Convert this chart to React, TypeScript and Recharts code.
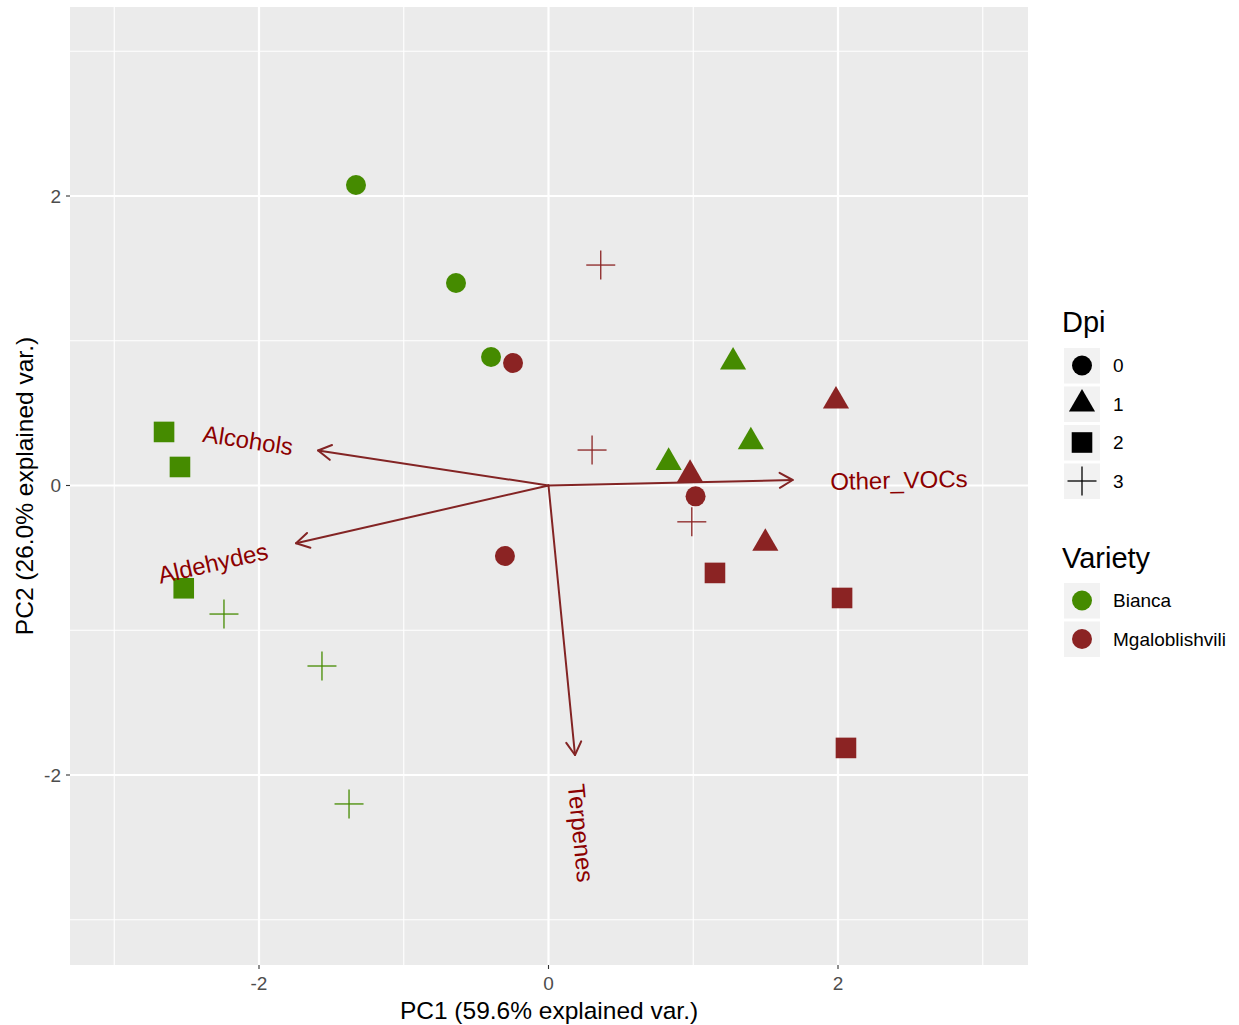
import React from 'react';
import { ScatterChart, Scatter, XAxis, YAxis, CartesianGrid, ReferenceLine } from 'recharts';

const FONT = '"Liberation Sans", Arial, Helvetica, sans-serif';
const GREEN = '#458B00';
const RED = '#8B2323';
const ARROW = '#832424';
const LABEL_RED = '#8B0000';

// axis domains and ticks
const xDomain: [number, number] = [-3.3057, 3.3126];
const yDomain: [number, number] = [-3.3126, 3.3057];
const gridTicks = [-3, -2, -1, 0, 1, 2, 3];
const labelledTicks = [-2, 0, 2];

// legend categories
const dpiLevels = [0, 1, 2, 3];
const varieties = ['Bianca', 'Mgaloblishvili'];
const varietyColors = [GREEN, RED];

// Bianca scores
const biancaPC1 = [-1.330, -0.639, -0.397, 1.275, 1.398, 0.830, -2.656, -2.546, -2.520, -2.242, -1.565, -1.378];
const biancaPC2 = [2.076, 1.399, 0.888, 0.853, 0.302, 0.160, 0.370, 0.128, -0.710, -0.888, -1.247, -2.200];
const biancaDpi = [0, 0, 0, 1, 1, 1, 2, 2, 2, 3, 3, 3];

// Mgaloblishvili scores
const mgaloPC1 = [-0.245, 1.016, -0.301, 1.986, 0.978, 1.498, 1.150, 2.028, 2.055, 0.361, 0.301, 0.990];
const mgaloPC2 = [0.846, -0.075, -0.487, 0.584, 0.077, -0.399, -0.604, -0.777, -1.813, 1.523, 0.245, -0.251];
const mgaloDpi = [0, 0, 0, 1, 1, 1, 2, 2, 2, 3, 3, 3];

// variable loadings (arrows)
const loadingNames = ['Alcohols', 'Aldehydes', 'Other_VOCs', 'Terpenes'];
const loadingPC1 = [-1.592, -1.744, 1.687, 0.183];
const loadingPC2 = [0.242, -0.399, 0.038, -1.862];
const labelPC1 = [-2.076, -2.318, 2.421, 0.225];
const labelPC2 = [0.314, -0.535, 0.038, -2.401];

const biancaData = biancaPC1.map((x, i) => ({ x, y: biancaPC2[i], dpi: biancaDpi[i] }));
const mgaloData = mgaloPC1.map((x, i) => ({ x, y: mgaloPC2[i], dpi: mgaloDpi[i] }));
const labelData = loadingNames.map((name, i) => ({
  x: labelPC1[i],
  y: labelPC2[i],
  name,
  angle: -(Math.atan(loadingPC2[i] / loadingPC1[i]) * 180) / Math.PI,
}));

function Marker({ dpi, cx, cy, color }: { dpi: number; cx: number; cy: number; color: string }) {
  if (dpi === 0) return <circle cx={cx} cy={cy} r={10} fill={color} />;
  if (dpi === 1) {
    const a = 9.7;
    const pts = `${cx},${cy - 1.555 * a} ${cx + 1.347 * a},${cy + 0.778 * a} ${cx - 1.347 * a},${cy + 0.778 * a}`;
    return <polygon points={pts} fill={color} />;
  }
  if (dpi === 2) return <rect x={cx - 10.3} y={cy - 10.3} width={20.6} height={20.6} fill={color} />;
  return (
    <g stroke={color} strokeWidth={1.3}>
      <line x1={cx - 14.5} x2={cx + 14.5} y1={cy} y2={cy} />
      <line x1={cx} x2={cx} y1={cy - 14.5} y2={cy + 14.5} />
    </g>
  );
}

const makeShape = (color: string) => (props: any) => (
  <Marker dpi={props.payload.dpi} cx={props.cx} cy={props.cy} color={color} />
);

function ArrowShape(props: any) {
  const { x1, y1, x2, y2 } = props;
  const ang = Math.atan2(y2 - y1, x2 - x1);
  const L = 15;
  const s = Math.PI / 6;
  const ax = x2 - L * Math.cos(ang - s);
  const ay = y2 - L * Math.sin(ang - s);
  const bx = x2 - L * Math.cos(ang + s);
  const by = y2 - L * Math.sin(ang + s);
  return (
    <g stroke={ARROW} strokeWidth={2} fill="none" strokeLinecap="round" strokeLinejoin="round">
      <line x1={x1} y1={y1} x2={x2} y2={y2} />
      <polyline points={`${ax},${ay} ${x2},${y2} ${bx},${by}`} />
    </g>
  );
}

function VarLabel(props: any) {
  const { cx, cy, payload } = props;
  return (
    <text
      x={cx}
      y={cy}
      transform={`rotate(${payload.angle}, ${cx}, ${cy})`}
      textAnchor="middle"
      dominantBaseline="central"
      fill={LABEL_RED}
      fontSize={24}
      fontFamily={FONT}
    >
      {payload.name}
    </text>
  );
}

function XTick(props: any) {
  const { x, y, payload } = props;
  if (!labelledTicks.includes(payload.value)) return <g />;
  return (
    <g>
      <line x1={x} x2={x} y1={y} y2={y + 4} stroke="#333333" strokeWidth={1.1} />
      <text x={x} y={y + 18} textAnchor="middle" dominantBaseline="central" fill="#4D4D4D" fontSize={19} fontFamily={FONT}>
        {payload.value}
      </text>
    </g>
  );
}

function YTick(props: any) {
  const { x, y, payload } = props;
  if (!labelledTicks.includes(payload.value)) return <g />;
  return (
    <g>
      <line x1={x - 4} x2={x} y1={y} y2={y} stroke="#333333" strokeWidth={1.1} />
      <text x={x - 9} y={y} textAnchor="end" dominantBaseline="central" fill="#4D4D4D" fontSize={19} fontFamily={FONT}>
        {payload.value}
      </text>
    </g>
  );
}

const gridLine = (props: any) => {
  const idx = props.index;
  if (idx === undefined || idx >= gridTicks.length) return <g key={props.key} />;
  const major = labelledTicks.includes(gridTicks[idx]);
  return (
    <line
      key={props.key}
      x1={props.x1}
      y1={props.y1}
      x2={props.x2}
      y2={props.y2}
      stroke="#FFFFFF"
      strokeWidth={major ? 2.2 : 1.1}
    />
  );
};

function Overlay() {
  return (
    <svg width={1239} height={1025} style={{ position: 'absolute', left: 0, top: 0, pointerEvents: 'none' }}>
      <text x={549} y={1010} textAnchor="middle" dominantBaseline="central" fontSize={24.5} fontFamily={FONT} fill="#000">
        PC1 (59.6% explained var.)
      </text>
      <text
        transform="translate(24,486) rotate(-90)"
        textAnchor="middle"
        dominantBaseline="central"
        fontSize={24.5}
        fontFamily={FONT}
        fill="#000"
      >
        PC2 (26.0% explained var.)
      </text>
      <text x={1062} y={332} fontSize={29} fontFamily={FONT} fill="#000">Dpi</text>
      {dpiLevels.map((d, i) => {
        const top = 348 + i * 38.5;
        const cy = top + 17.5;
        return (
          <g key={d}>
            <rect x={1064} y={top} width={36} height={35.5} fill="#F2F2F2" />
            <Marker dpi={d} cx={1082} cy={cy} color="#000" />
            <text x={1113} y={cy} dominantBaseline="central" fontSize={19} fontFamily={FONT} fill="#000">{d}</text>
          </g>
        );
      })}
      <text x={1062} y={568} fontSize={29} fontFamily={FONT} fill="#000">Variety</text>
      {varieties.map((v, i) => {
        const top = 583 + i * 38.5;
        const cy = top + 17.5;
        return (
          <g key={v}>
            <rect x={1064} y={top} width={36} height={35.5} fill="#F2F2F2" />
            <circle cx={1082} cy={cy} r={10} fill={varietyColors[i]} />
            <text x={1113} y={cy} dominantBaseline="central" fontSize={19} fontFamily={FONT} fill="#000">{v}</text>
          </g>
        );
      })}
    </svg>
  );
}

export default function App() {
  return (
    <div style={{ position: 'absolute', left: 0, top: 0, width: 1239, height: 1025, background: '#fff' }}>
      <ScatterChart width={1239} height={1025} margin={{ top: 7, right: 211, bottom: 0, left: 0 }}>
        <CartesianGrid fill="#EBEBEB" stroke="#FFFFFF" syncWithTicks vertical={gridLine} horizontal={gridLine} />
        <XAxis
          type="number"
          dataKey="x"
          domain={xDomain}
          ticks={gridTicks}
          interval={0}
          allowDataOverflow
          axisLine={false}
          tickLine={false}
          tickSize={0}
          tickMargin={0}
          height={60}
          tick={<XTick />}
        />
        <YAxis
          type="number"
          dataKey="y"
          domain={yDomain}
          ticks={gridTicks}
          interval={0}
          allowDataOverflow
          axisLine={false}
          tickLine={false}
          tickSize={0}
          tickMargin={0}
          width={70}
          tick={<YTick />}
        />
        {loadingNames.map((n, i) => (
          <ReferenceLine
            key={n}
            segment={[{ x: 0, y: 0 }, { x: loadingPC1[i], y: loadingPC2[i] }]}
            shape={ArrowShape}
            ifOverflow="visible"
          />
        ))}
        <Scatter name="Bianca" data={biancaData} shape={makeShape(GREEN)} isAnimationActive={false} />
        <Scatter name="Mgaloblishvili" data={mgaloData} shape={makeShape(RED)} isAnimationActive={false} />
        <Scatter name="labels" data={labelData} shape={VarLabel} isAnimationActive={false} />
      </ScatterChart>
      <Overlay />
    </div>
  );
}
